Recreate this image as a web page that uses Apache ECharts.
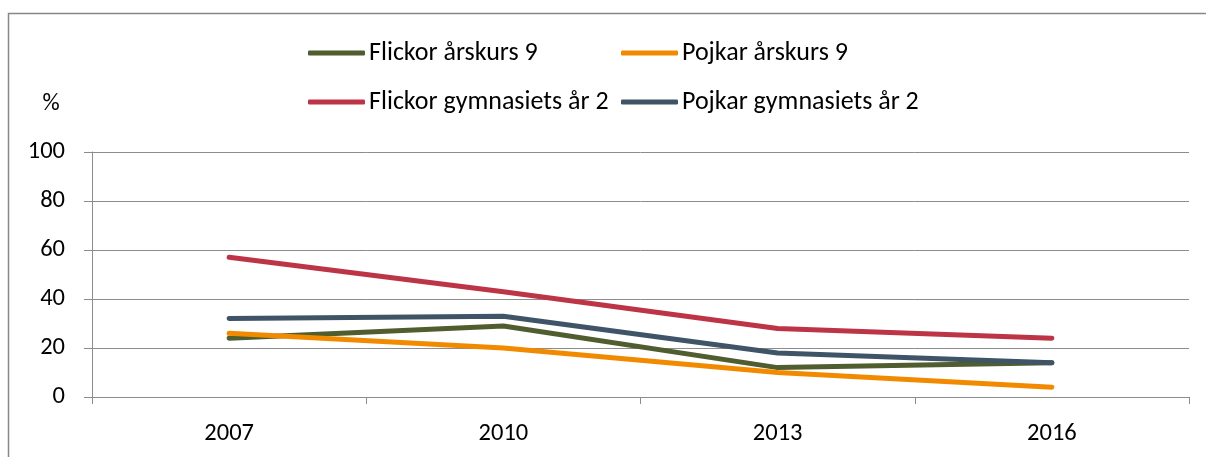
<!DOCTYPE html>
<html>
<head>
<meta charset="utf-8">
<script src="https://cdn.jsdelivr.net/npm/echarts@6/dist/echarts.min.js"></script>
<style>
	html, body { margin: 0; padding: 0; background: #fff; }
	#chart { width: 1206px; height: 457px; }
</style>
</head>
<body>
<div id="chart"></div>
<script>
const years = ['2007', '2010', '2013', '2016']
const seriesNames = ['Flickor årskurs 9', 'Pojkar årskurs 9', 'Flickor gymnasiets år 2', 'Pojkar gymnasiets år 2']
const flickorAk9 = [24, 29, 12, 14]
const pojkarAk9 = [26, 20, 10, 4]
const flickorGy2 = [57, 43, 28, 24]
const pojkarGy2 = [32, 33, 18, 14]
const colors = ['#4f5d2f', '#f28a00', '#be3447', '#3f5567']

const font = 'Carlito, "Liberation Sans", sans-serif'
const chart = echarts.init(document.getElementById('chart'))

const legendPos = [
	{ left: 308, top: 40 },
	{ left: 621, top: 40 },
	{ left: 308, top: 89 },
	{ left: 621, top: 89 },
]

const option = {
	animation: false,
	color: colors,
	textStyle: { fontFamily: font },
	legend: seriesNames.map((name, i) => ({
		data: [name],
		left: legendPos[i].left,
		top: legendPos[i].top,
		padding: 0,
		icon: 'roundRect',
		itemWidth: 57,
		itemHeight: 5,
		itemGap: 0,
		selectedMode: false,
		textStyle: { fontFamily: font, fontSize: 26, color: '#000', padding: [0, 0, 0, -1] },
	})),
	graphic: [
		{
			type: 'rect',
			shape: { x: 8.5, y: 13.5, width: 1300, height: 500 },
			style: { fill: 'none', stroke: '#878787', lineWidth: 1.5 },
		},
		{
			type: 'text',
			x: 51,
			y: 104,
			style: { text: '%', font: '24px ' + font, fill: '#000', align: 'center', verticalAlign: 'middle' },
		},
	],
	grid: { left: 92, right: 17, top: 152, bottom: 60 },
	xAxis: {
		type: 'category',
		data: years,
		boundaryGap: true,
		axisLine: { lineStyle: { color: '#8c8c8c', width: 1 } },
		axisTick: { show: true, length: 7, lineStyle: { color: '#8c8c8c' } },
		axisLabel: { color: '#000', fontSize: 24.5, margin: 24 },
	},
	yAxis: {
		type: 'value',
		min: 0,
		max: 100,
		interval: 20,
		axisLine: { show: true, lineStyle: { color: '#8c8c8c', width: 1 } },
		axisTick: { show: true, length: 8, lineStyle: { color: '#8c8c8c' } },
		axisLabel: { color: '#000', fontSize: 24.5, margin: 27 },
		splitLine: { lineStyle: { color: '#8c8c8c', width: 1 } },
	},
	series: [flickorAk9, pojkarAk9, flickorGy2, pojkarGy2].map((d, i) => ({
		name: seriesNames[i],
		type: 'line',
		data: d,
		symbol: 'none',
		lineStyle: { width: 5, cap: 'round', join: 'round', color: colors[i] },
		itemStyle: { color: colors[i] },
	})),
}

chart.setOption(option)
</script>
</body>
</html>
